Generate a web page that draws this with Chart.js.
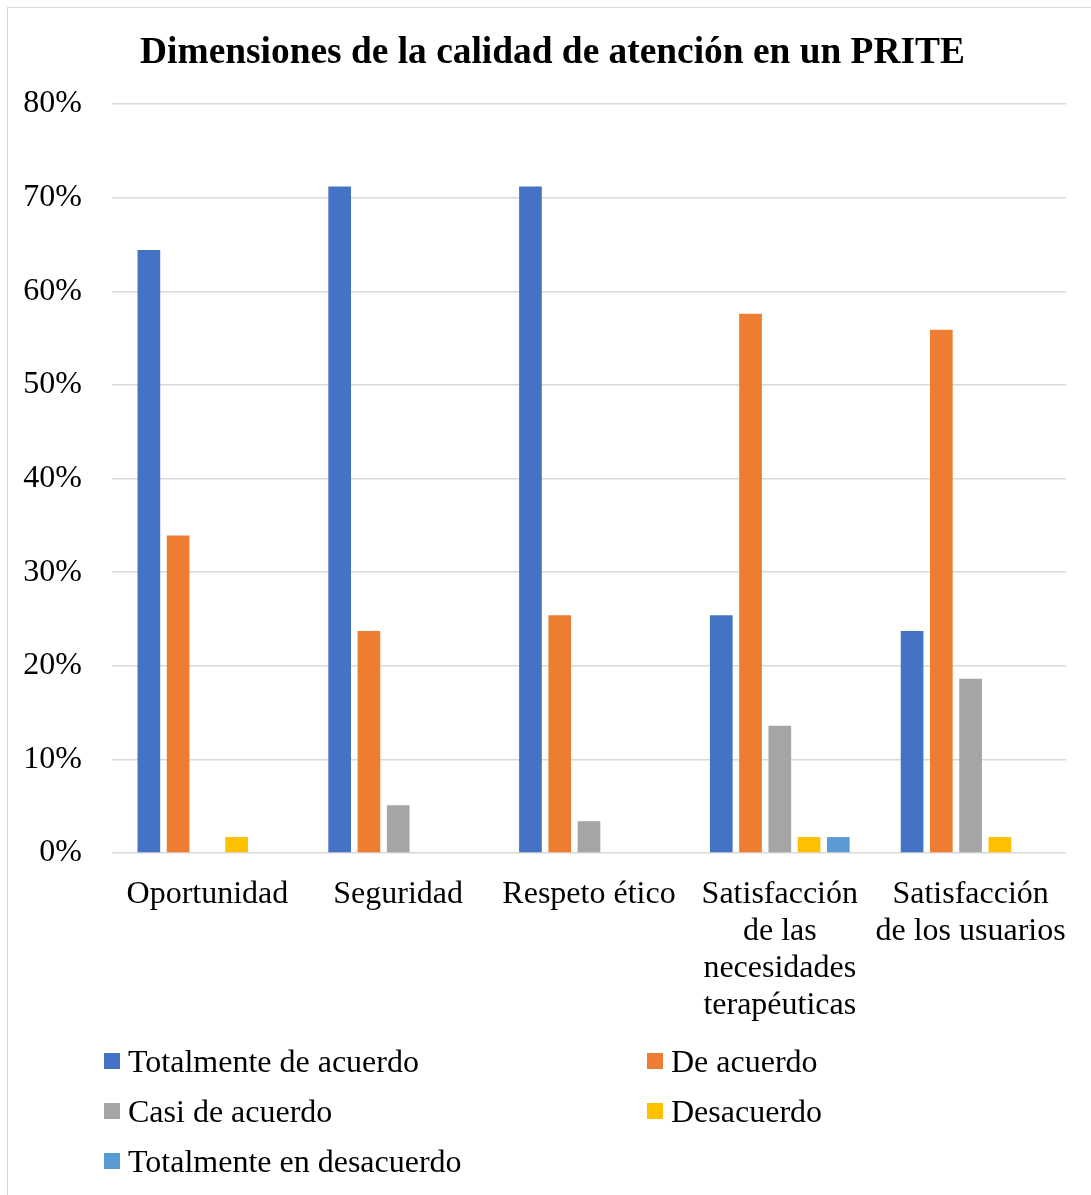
<!DOCTYPE html>
<html>
<head>
<meta charset="utf-8">
<script src="https://cdn.jsdelivr.net/npm/chart.js@4/dist/chart.umd.min.js"></script>
<style>
  html, body { margin: 0; padding: 0; background: #fff; overflow: hidden; }
  #frame { position: absolute; left: 7px; top: 7px; width: 1200px; height: 1300px; border: 1.5px solid #d9d9d9; box-sizing: border-box; }
  #wrap { position: absolute; left: 0; top: 0; width: 1091px; height: 1195px; }
  #title { position: absolute; left: 0; top: 28.5px; width: 1105px; height: 44px; line-height: 44px; text-align: center;
           font-family: "Liberation Serif", "Times New Roman", serif; font-size: 37.4px; font-weight: bold; color: #000; white-space: nowrap; }
  #legend { position: absolute; left: 0; top: 0; width: 1091px; height: 1195px; pointer-events: none;
            font-family: "Liberation Serif", "Times New Roman", serif; font-size: 32px; color: #000; }
  .item { position: absolute; height: 50px; display: flex; align-items: center; white-space: nowrap; line-height: 50px; }
  .box { width: 16px; height: 16px; margin-right: 8px; flex: none; }
</style>
</head>
<body>
<div id="frame"></div>
<div id="wrap"><canvas id="c"></canvas></div>
<div id="title"></div>
<div id="legend"></div>
<script>
const categories = [
  'Oportunidad',
  'Seguridad',
  'Respeto ético',
  ['Satisfacción', 'de las', 'necesidades', 'terapéuticas'],
  ['Satisfacción', 'de los usuarios']
];
const seriesNames = ['Totalmente de acuerdo', 'De acuerdo', 'Casi de acuerdo', 'Desacuerdo', 'Totalmente en desacuerdo'];
const totalmenteDeAcuerdo   = [64.4, 71.2, 71.2, 25.4, 23.7];
const deAcuerdo             = [33.9, 23.7, 25.4, 57.6, 55.9];
const casiDeAcuerdo         = [0, 5.1, 3.4, 13.6, 18.6];
const desacuerdo            = [1.7, 0, 0, 1.7, 1.7];
const totalmenteEnDesacuerdo = [0, 0, 0, 1.7, 0];
const yTickValues = [0, 10, 20, 30, 40, 50, 60, 70, 80];
const titleText = 'Dimensiones de la calidad de atención en un PRITE';

const seriesValues = [totalmenteDeAcuerdo, deAcuerdo, casiDeAcuerdo, desacuerdo, totalmenteEnDesacuerdo];
const colors = ['#4472C4', '#ED7D31', '#A5A5A5', '#FFC000', '#5B9BD5'];
const FONT = '"Liberation Serif", "Times New Roman", serif';

document.getElementById('title').textContent = titleText;

const datasets = seriesNames.map((name, i) => ({
  label: name,
  data: seriesValues[i],
  backgroundColor: colors[i],
  borderWidth: 0,
  categoryPercentage: 0.767,
  barPercentage: 0.775
}));

const chart = new Chart(document.getElementById('c'), {
  type: 'bar',
  data: { labels: categories, datasets },
  options: {
    responsive: true,
    maintainAspectRatio: false,
    animation: false,
    layout: { padding: { left: 0, right: 23, top: 104, bottom: 0 } },
    plugins: {
      legend: { display: false },
      tooltip: { enabled: false },
      title: { display: false }
    },
    scales: {
      x: {
        grid: { display: false, drawTicks: false },
        border: { display: false },
        ticks: {
          color: '#000',
          font: { family: FONT, size: 32, lineHeight: 1.156 },
          padding: 23,
          autoSkip: false,
          maxRotation: 0,
          minRotation: 0
        },
        afterFit: (s) => { s.height = 342; }
      },
      y: {
        min: 0,
        max: 80,
        afterBuildTicks: (s) => { s.ticks = yTickValues.map(v => ({ value: v })); },
        grid: { color: '#d9d9d9', lineWidth: 1.5, drawTicks: false },
        border: { display: false },
        ticks: {
          color: '#000',
          font: { family: FONT, size: 32 },
          padding: 30,
          callback: (v) => v + '%'
        },
        afterFit: (s) => { s.width = 112; }
      }
    }
  }
});

// HTML legend built from the datasets
const legendPos = [
  { left: 104, top: 1036 }, { left: 647, top: 1036 },
  { left: 104, top: 1086 }, { left: 647, top: 1086 },
  { left: 104, top: 1136 }
];
const legendEl = document.getElementById('legend');
chart.data.datasets.forEach((ds, i) => {
  const item = document.createElement('div');
  item.className = 'item';
  item.style.left = legendPos[i].left + 'px';
  item.style.top = legendPos[i].top + 'px';
  const box = document.createElement('span');
  box.className = 'box';
  box.style.background = ds.backgroundColor;
  const txt = document.createElement('span');
  txt.textContent = ds.label;
  item.appendChild(box);
  item.appendChild(txt);
  legendEl.appendChild(item);
});
</script>
</body>
</html>
